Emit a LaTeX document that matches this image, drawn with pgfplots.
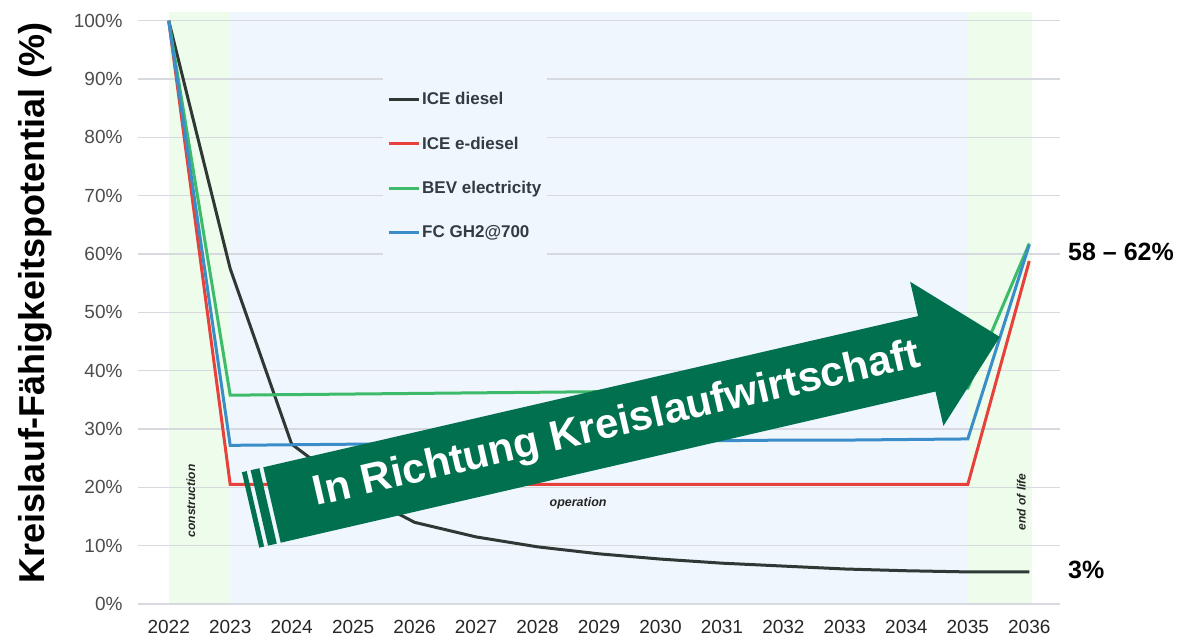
\documentclass[border=0pt]{standalone}
\usepackage{fontspec}
\setmainfont{Liberation Sans}
\usepackage{pgfplots}
\pgfplotsset{compat=1.18}
\definecolor{cdiesel}{HTML}{2F3835}
\definecolor{cred}{HTML}{E8403A}
\definecolor{cgreen}{HTML}{3DBB6A}
\definecolor{cblue}{HTML}{3A8DC8}
\definecolor{carrow}{HTML}{00704F}
\definecolor{cbgblue}{HTML}{EFF6FD}
\definecolor{cbggreen}{HTML}{EDFCEB}
\definecolor{cgrid}{HTML}{D6DADE}
\definecolor{clegend}{HTML}{333B42}
\begin{document}
\begin{tikzpicture}
\useasboundingbox (0,0) rectangle (1178pt,636pt);
\begin{axis}[
  at={(138pt,32pt)}, anchor=south west,
  scale only axis, width=922pt, height=592pt,
  xmin=-0.5, xmax=14.5, ymin=0, ymax=101.5,
  axis line style={draw=none},
  major tick length=0pt,
  xtick={0,1,2,3,4,5,6,7,8,9,10,11,12,13,14},
  xticklabels={2022,2023,2024,2025,2026,2027,2028,2029,2030,2031,2032,2033,2034,2035,2036},
  ytick={0,10,20,30,40,50,60,70,80,90,100},
  yticklabels={0\%,10\%,20\%,30\%,40\%,50\%,60\%,70\%,80\%,90\%,100\%},
  xticklabel style={font=\fontsize{19}{22}\selectfont, text=black!85, yshift=-13pt},
  yticklabel style={font=\fontsize{19}{22}\selectfont, text=black!70, xshift=-12pt},
  ylabel={Kreislauf-Fähigkeitspotential (\%)},
  every axis y label/.style={at={(axis description cs:-0.1117,0.5084)}, rotate=90, anchor=center, font=\fontsize{36}{40}\selectfont\bfseries},
  clip=false,
  legend style={at={(axis description cs:0.2657,0.9155)}, anchor=north west, draw=none, fill=cbgblue, font=\fontsize{17}{20}\selectfont\bfseries, text=clegend, row sep=26.7pt, inner xsep=4pt, inner ysep=28pt},
  legend cell align=left,
  legend image code/.code={\draw[#1, line width=3pt] (0pt,0pt) -- (30pt,0pt);},
]
% background phases
\addplot[fill=cbggreen, draw=none, forget plot] coordinates {(0,0) (0,101.5) (1,101.5) (1,0)};
\addplot[fill=cbgblue, draw=none, forget plot] coordinates {(1,0) (1,101.5) (13,101.5) (13,0)};
\addplot[fill=cbggreen, draw=none, forget plot] coordinates {(13,0) (13,101.5) (14.05,101.5) (14.05,0)};
% horizontal grid lines
\foreach \g in {0,10,...,100} {
  \edef\tmp{\noexpand\addplot[cgrid, line width=1.3pt, forget plot] coordinates {(-0.5,\g) (14.5,\g)};}
  \tmp
}

\addplot[cdiesel, line width=3pt] coordinates {
 (0,100) (1,57.5) (2,27.4) (3,19.5) (4,14.0) (5,11.5) (6,9.8) (7,8.6) (8,7.7) (9,7.0) (10,6.5) (11,6.0) (12,5.7) (13,5.5) (14,5.5)};
\addlegendentry{ICE diesel}
\addplot[cred, line width=3pt] coordinates {
 (0,100) (1,20.5) (2,20.5) (3,20.5) (4,20.5) (5,20.5) (6,20.5) (7,20.5) (8,20.5) (9,20.5) (10,20.5) (11,20.5) (12,20.5) (13,20.5) (14,58.8)};
\addlegendentry{ICE e-diesel}
\addplot[cgreen, line width=3pt] coordinates {
 (0,100) (1,35.8) (2,35.9) (3,36.0) (4,36.1) (5,36.2) (6,36.3) (7,36.4) (8,36.5) (9,36.6) (10,36.7) (11,36.8) (12,36.9) (13,37.0) (14,61.8)};
\addlegendentry{BEV electricity}
\addplot[cblue, line width=3pt] coordinates {
 (0,100) (1,27.2) (2,27.3) (3,27.4) (4,27.5) (5,27.6) (6,27.7) (7,27.8) (8,27.9) (9,28.0) (10,28.1) (11,28.1) (12,28.2) (13,28.3) (14,61.6)};
\addlegendentry{FC GH2@700}

\node[rotate=90, font=\fontsize{12}{14}\selectfont\bfseries\itshape, text=black!85] at (axis cs:0.36,17.66) {construction};
\node[font=\fontsize{12.5}{14}\selectfont\bfseries\itshape, text=black!85] at (axis cs:6.66,17.3) {operation};
\node[rotate=90, font=\fontsize{12}{14}\selectfont\bfseries\itshape, text=black!85] at (axis cs:13.87,17.5) {end of life};
\node[anchor=west, inner sep=0pt, font=\fontsize{25}{28}\selectfont\bfseries] at (axis cs:14.63,60.35) {58 – 62\%};
\node[anchor=west, inner sep=0pt, font=\fontsize{25}{28}\selectfont\bfseries] at (axis cs:14.63,5.83) {3\%};
\end{axis}
\begin{scope}[shift={(272pt,131pt)}, rotate=13]
\fill[carrow] (0pt,-38.7pt) rectangle (673pt,38.7pt);
\fill[carrow] (672pt,74pt) -- (747pt,0pt) -- (672pt,-74pt) -- cycle;
\fill[carrow] (-13pt,-38.7pt) rectangle (-4pt,38.7pt);
\fill[carrow] (-22pt,-38.7pt) rectangle (-17pt,38.7pt);
\node[text=white, font=\fontsize{42}{46}\selectfont\bfseries, rotate=13] at (354pt,0pt) {In Richtung Kreislaufwirtschaft};
\end{scope}
\end{tikzpicture}
\end{document}
